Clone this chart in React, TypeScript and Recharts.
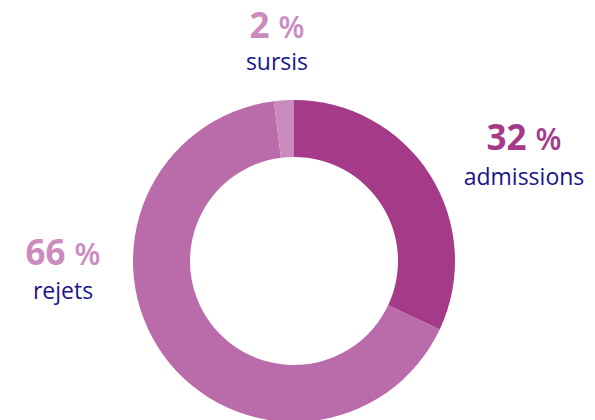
import React from "react";
import { PieChart, Pie, Cell } from "recharts";

const categories = ["admissions", "rejets", "sursis"];
const shares = [32, 66, 2];

const SLICE_COLORS = ["#A53A89", "#BA6BAA", "#CA8ABD"];
const PCT_COLORS = ["#A53A89", "#CC8BBF", "#CC8BBF"];
const NAVY = "#1A1488";

// label anchor offsets from the pie centre (pct baseline, name baseline)
const LABEL_POS = [
  { dx: 230, pctY: -111, nameY: -76 },
  { dx: -231, pctY: 4, nameY: 38 },
  { dx: -17, pctY: -223, nameY: -191 },
];

const data = categories.map((name, i) => ({ name, value: shares[i] }));

const FONT = "'Open Sans', sans-serif";

function renderLabel(props: any) {
  const { cx, cy, index, value, name } = props;
  const p = LABEL_POS[index];
  const x = cx + p.dx;
  return (
    <g key={`lbl-${index}`}>
      <text
        x={x}
        y={cy + p.pctY}
        textAnchor="middle"
        fill={PCT_COLORS[index]}
        fontFamily={FONT}
        fontWeight={700}
        fontSize={35}
      >
        {value} <tspan fontSize={30} fontWeight={600}>%</tspan>
      </text>
      <text
        x={x}
        y={cy + p.nameY}
        textAnchor="middle"
        fill={NAVY}
        fontFamily={FONT}
        fontSize={23}
      >
        {name}
      </text>
    </g>
  );
}

export default function App() {
  return (
    <div style={{ position: "absolute", left: 0, top: 0, width: 595, height: 420, background: "#fff" }}>
      <PieChart width={595} height={420} margin={{ top: 0, right: 0, bottom: 0, left: 0 }}>
        <Pie
          data={data}
          dataKey="value"
          nameKey="name"
          cx={294}
          cy={261}
          innerRadius={104}
          outerRadius={161}
          startAngle={90}
          endAngle={-270}
          stroke="none"
          label={renderLabel}
          labelLine={false}
          isAnimationActive={false}
        >
          {data.map((_, i) => (
            <Cell key={`cell-${i}`} fill={SLICE_COLORS[i]} />
          ))}
        </Pie>
      </PieChart>
    </div>
  );
}
